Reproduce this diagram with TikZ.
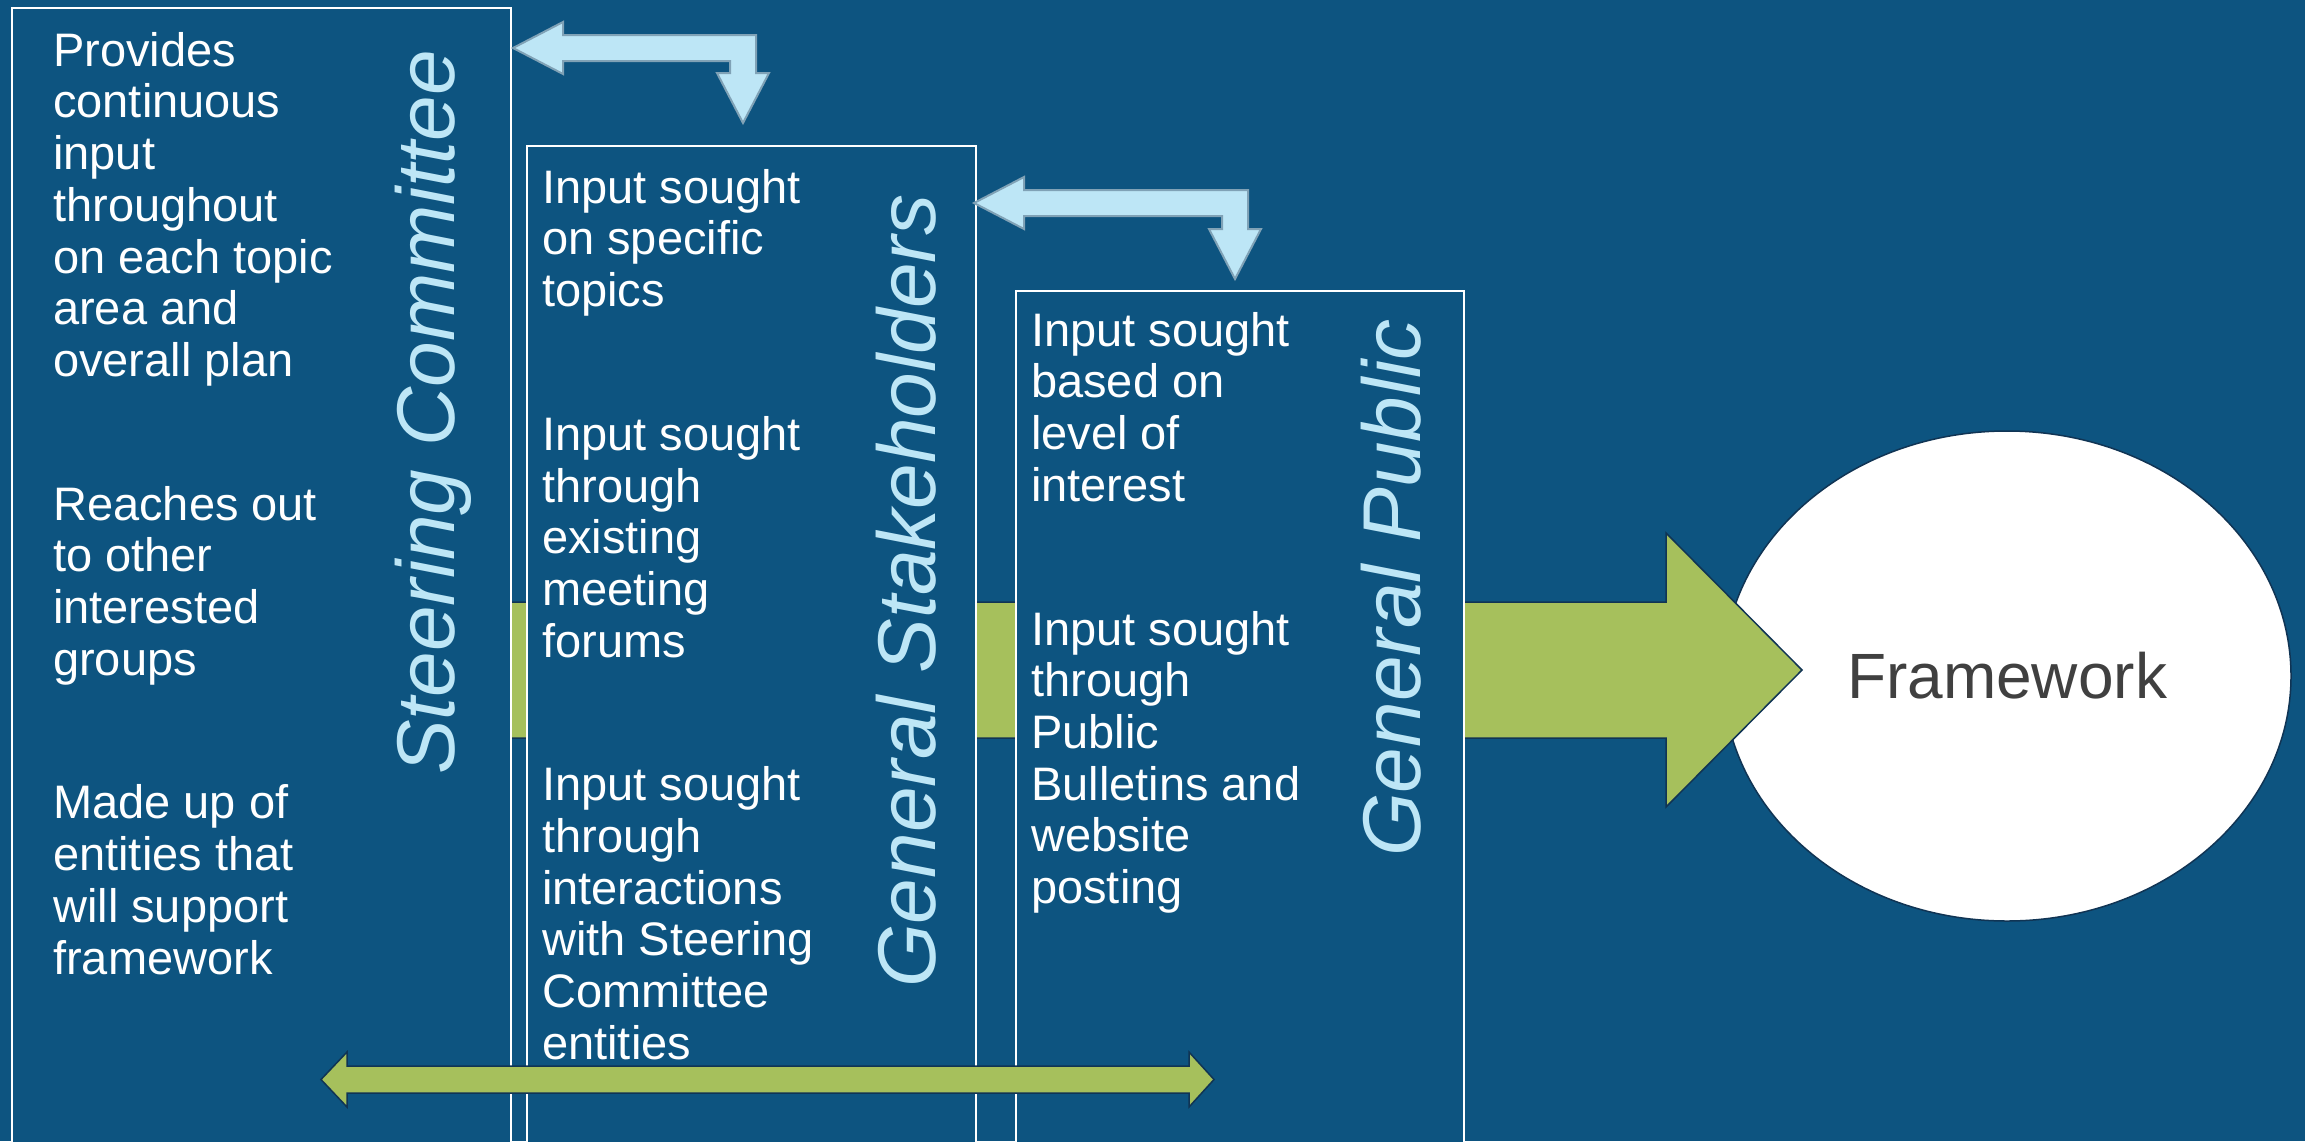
\documentclass[tikz,border=0pt]{standalone}
\usepackage{fontspec}
\setmainfont{Liberation Sans}
\usetikzlibrary{positioning, shapes.geometric}

\definecolor{slate}{RGB}{13,84,128}
\definecolor{skyblue}{RGB}{189,230,246}
\definecolor{skyedge}{RGB}{128,162,182}
\definecolor{leafgreen}{RGB}{166,192,92}
\definecolor{darkedge}{RGB}{16,52,84}
\definecolor{inkgray}{RGB}{64,64,64}

\tikzset{
  panel/.style={draw=white, line width=2pt, fill=slate, anchor=north west, inner sep=0pt},
  body/.style={text=white, align=left, inner sep=0pt, font=\fontsize{47}{51.7}\selectfont},
  grouptitle/.style={text=skyblue, rotate=90, anchor=base west, inner sep=0pt, font=\fontsize{82}{90}\selectfont\itshape},
  bluearrow/.style={fill=skyblue, draw=skyedge, line width=2pt},
  greenarrow/.style={fill=leafgreen, draw=darkedge, line width=1.5pt},
}

\newcommand*{\bentarrow}[4]{%
  \draw[bluearrow] (#1,#2) -- ({#1+50},{#2-26}) -- ({#1+50},{#2-13}) -- ({#3+13},{#2-13})
    -- ({#3+13},{#4-50}) -- ({#3+26},{#4-50}) -- (#3,#4) -- ({#3-26},{#4-50})
    -- ({#3-13},{#4-50}) -- ({#3-13},{#2+13}) -- ({#1+50},{#2+13}) -- ({#1+50},{#2+26}) -- cycle;}

\begin{document}
\begin{tikzpicture}[x=1pt, y=-1pt]
\useasboundingbox (0,0) rectangle (2305,1141);
\clip (0,0) rectangle (2305,1141);
\fill[slate] (0,0) rectangle (2305,1141);

\node (fw) [ellipse, draw=darkedge, line width=1.5pt, fill=white, minimum width=568pt, minimum height=490pt,
  text=inkgray, font=\fontsize{64}{70}\selectfont] at (2007,676) {Framework};

\draw[greenarrow] (480,602) -- (1666,602) -- (1666,533) -- (1802,670) -- (1666,807) -- (1666,738) -- (480,738) -- cycle;

\node (sc) [panel, minimum width=499pt, minimum height=1200pt] at (11,7) {};
\node (gs) [panel, minimum width=449pt, minimum height=1100pt] at (526,145) {};
\node (gp) [panel, minimum width=448pt, minimum height=1000pt] at (1015,290) {};

\node (scText) [body, below right=25pt and 42pt of sc.north west]
  {Provides\\continuous\\input\\throughout\\on each topic\\area and\\overall plan\\[92pt]
   Reaches out\\to other\\interested\\groups\\[92pt]
   Made up of\\entities that\\will support\\framework};
\node (gsText) [body, below right=24pt and 16pt of gs.north west]
  {Input sought\\on specific\\topics\\[92pt]
   Input sought\\through\\existing\\meeting\\forums\\[92pt]
   Input sought\\through\\interactions\\with Steering\\Committee\\entities};
\node (gpText) [body, below right=22pt and 16pt of gp.north west]
  {Input sought\\based on\\level of\\interest\\[92pt]
   Input sought\\through\\Public\\Bulletins and\\website\\posting};

\node (scTitle) [grouptitle] at (454,775) {Steering Committee};
\node (gsTitle) [grouptitle] at (935,988) {General Stakeholders};
\node (gpTitle) [grouptitle] at (1420,857) {General Public};

\bentarrow{513}{48}{743}{123}
\bentarrow{974}{203}{1235}{279}

\draw[greenarrow] (321,1079.5) -- (347,1052) -- (347,1066) -- (1189,1066) -- (1189,1052) -- (1214,1079.5)
  -- (1189,1107) -- (1189,1093) -- (347,1093) -- (347,1107) -- cycle;
\end{tikzpicture}
\end{document}
